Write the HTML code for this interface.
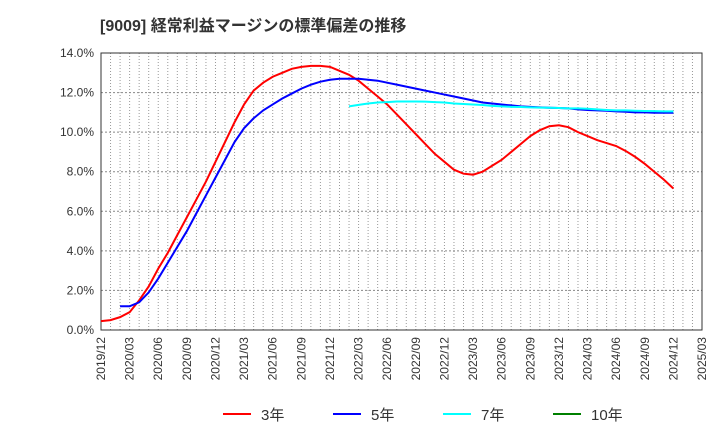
<!DOCTYPE html>
<html><head><meta charset="utf-8"><style>
body{margin:0;background:#fff;font-family:"Liberation Sans","Noto Sans CJK JP",sans-serif}
svg text{font-family:"Liberation Sans","Noto Sans CJK JP",sans-serif}
</style></head><body>
<svg id="c" width="720" height="440">
<text x="100" y="31" font-size="16" font-weight="bold" fill="#333">[9009]  経常利益マージンの標準偏差の推移</text>
<g id="grid"></g><g id="axes"></g><g id="series"></g><g id="legend"></g>
</svg>
<script>
const xLabels=["2019/12","2020/03","2020/06","2020/09","2020/12","2021/03","2021/06","2021/09","2021/12","2022/03","2022/06","2022/09","2022/12","2023/03","2023/06","2023/09","2023/12","2024/03","2024/06","2024/09","2024/12","2025/03"];
const yTicks=[0,2,4,6,8,10,12,14];
const s3=[0.45,0.5,0.65,0.9,1.5,2.2,3.1,3.9,4.8,5.7,6.6,7.5,8.5,9.5,10.5,11.4,12.1,12.5,12.8,13.0,13.2,13.3,13.35,13.35,13.3,13.1,12.9,12.6,12.2,11.8,11.4,10.9,10.4,9.9,9.4,8.9,8.5,8.1,7.9,7.85,8.0,8.3,8.6,9.0,9.4,9.8,10.1,10.3,10.35,10.25,10.0,9.8,9.6,9.45,9.3,9.05,8.75,8.4,8.0,7.6,7.15];
const s3Start=0;
const s5=[1.2,1.2,1.4,1.9,2.6,3.4,4.2,5.0,5.9,6.8,7.7,8.6,9.5,10.2,10.7,11.1,11.4,11.7,11.95,12.2,12.4,12.55,12.65,12.7,12.7,12.7,12.65,12.6,12.5,12.4,12.3,12.2,12.1,12.0,11.9,11.8,11.7,11.6,11.5,11.45,11.4,11.35,11.3,11.28,11.25,11.23,11.22,11.2,11.15,11.12,11.1,11.08,11.05,11.03,11.0,11.0,10.98,10.98,10.98];
const s5Start=2;
const s7=[11.3,11.38,11.45,11.5,11.52,11.55,11.55,11.55,11.54,11.52,11.5,11.45,11.42,11.4,11.37,11.33,11.3,11.28,11.27,11.25,11.24,11.23,11.22,11.2,11.2,11.18,11.15,11.12,11.1,11.1,11.08,11.07,11.06,11.05,11.05];
const s7Start=26;
const seriesNames=["3年","5年","7年","10年"];
const seriesColors=["#ff0000","#0000ff","#00ffff","#008000"];
const L=101,R=702,T=53,B=330,N=63,YMAX=14;
const X=m=>L+(R-L)*m/N, Y=v=>B-(B-T)*v/YMAX;
const NS="http://www.w3.org/2000/svg";
function mk(p,tag,at){const e=document.createElementNS(NS,tag);for(const k in at)e.setAttribute(k,at[k]);p.appendChild(e);return e;}
const g=document.getElementById('grid'),ax=document.getElementById('axes'),se=document.getElementById('series'),lg=document.getElementById('legend');
for(let m=1;m<N;m++){const l=mk(g,'line',{x1:X(m),x2:X(m),y1:T,y2:B,stroke:'#999','stroke-dasharray':'1,2'});

}
yTicks.forEach(v=>{if(v>0&&v<YMAX){const l=mk(g,'line',{x1:L,x2:R,y1:Y(v),y2:Y(v),stroke:'#888','stroke-dasharray':'2,2'});

}
const t=mk(ax,'text',{x:L-7,y:Y(v)+4,'text-anchor':'end','font-size':12,fill:'#333'});t.textContent=v.toFixed(1)+'%';

});
xLabels.forEach((s,i)=>{const x=X(i*3);const t=mk(ax,'text',{x:x+4,y:337,'text-anchor':'end','font-size':12,fill:'#333',transform:`rotate(-90 ${x+4} 337)`});t.textContent=s;

});
const fr=mk(ax,'rect',{x:L,y:T,width:R-L,height:B-T,fill:'none',stroke:'#333'});


[[s3,s3Start],[s5,s5Start],[s7,s7Start]].forEach(([d,st],i)=>{const p=mk(se,'polyline',{points:d.map((v,k)=>X(st+k)+','+Y(v)).join(' '),fill:'none',stroke:seriesColors[i],'stroke-width':2});

});
const lx=[223,333,443,553];
seriesNames.forEach((n,i)=>{const gg=mk(lg,'g',{});


mk(gg,'line',{x1:lx[i],x2:lx[i]+28,y1:414,y2:414,stroke:seriesColors[i],'stroke-width':2});
const t=mk(gg,'text',{x:lx[i]+38,y:420,'font-size':15,fill:'#333'});t.textContent=n;});
</script>
</body></html>
